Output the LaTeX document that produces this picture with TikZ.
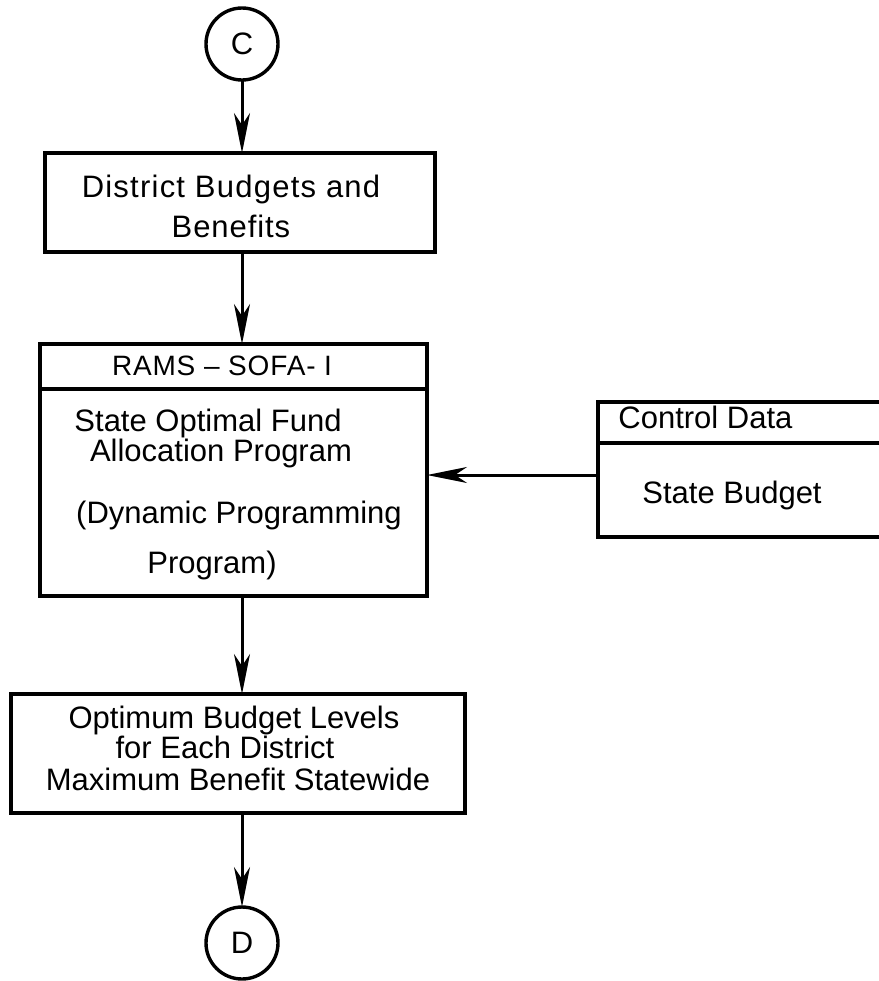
\documentclass[tikz,border=0pt]{standalone}
\usepackage{fontspec}
\setmainfont{Liberation Sans}
\usetikzlibrary{arrows.meta}
\begin{document}
\begin{tikzpicture}[x=0.5pt,y=-0.5pt,
  box/.style={draw, line width=1.7pt, inner sep=0pt, outer sep=0pt},
  conn/.style={circle, draw, line width=1.7pt, minimum size=36pt, inner sep=0pt, outer sep=0pt, font=\fontsize{15.5}{18}\selectfont},
  txt/.style={anchor=base, inner sep=0pt, font=\fontsize{15.5}{18}\selectfont},
  txtl/.style={anchor=base west, inner sep=0pt, font=\fontsize{15.5}{18}\selectfont},
  hdr/.style={anchor=base, inner sep=0pt, font=\fontsize{14}{16}\selectfont\addfontfeature{LetterSpace=3}},
  arr/.style={line width=1.5pt, -{Stealth[length=20pt,width=8pt,inset=6pt]}},
]
\useasboundingbox (0,0) rectangle (879,981);
% connectors (circles)
\node[conn] (c) at (242,44) {C};
\node[conn] (d) at (242,943) {D};
% box 1
\node[box, minimum width=195pt, minimum height=49.5pt] (b1) at (240,202.5) {};
\node[txt, font=\fontsize{15.5}{18}\selectfont\addfontfeature{LetterSpace=4}] (t1a) at (231,197) {District Budgets and};
\node[txt, font=\fontsize{15.5}{18}\selectfont\addfontfeature{LetterSpace=3}] (t1b) at (231,237) {Benefits};
% box 2
\node[box, minimum width=193.5pt, minimum height=126pt] (b2) at (233.5,470) {};
\draw[line width=1.7pt] ([yshift=-22.5pt]b2.north west) -- ([yshift=-22.5pt]b2.north east);
\node[hdr] (t2h) at (222,375) {RAMS -- SOFA- I};
\node[txt] (t2a) at (208,431) {State Optimal Fund};
\node[txt] (t2b) at (221,461) {Allocation Program};
\node[txt] (t2c) at (239,523) {(Dynamic Programming};
\node[txt] (t2d) at (212,573) {Program)};
% control data box (right side runs off the page)
\node[inner sep=0pt, outer sep=0pt, minimum width=140.5pt, minimum height=67.5pt] (cd) at (738.5,469.5) {};
\draw[line width=1.7pt] (cd.north east) -- (cd.north west) -- (cd.south west) -- (cd.south east);
\draw[line width=1.7pt] ([yshift=-20.5pt]cd.north west) -- ([yshift=-20.5pt]cd.north east);
\node[txtl] (tcd) at (618,428) {Control Data};
\node[txtl] (tsb) at (642,503) {State Budget};
% box 3
\node[box, minimum width=227pt, minimum height=59.5pt] (b3) at (238,753.5) {};
\node[txt] (t3a) at (234,728) {Optimum Budget Levels};
\node[txt] (t3b) at (225,758) {for Each District};
\node[txt] (t3c) at (238,790) {Maximum Benefit Statewide};
% arrows
\draw[arr] (c) -- (c |- b1.north);
\draw[arr] (b1.south -| c) -- (b2.north -| c);
\draw[arr] ([yshift=-2.75pt]cd.west) -- ([yshift=-2.75pt]cd.west -| b2.east);
\draw[arr] (b2.south -| c) -- (b3.north -| c);
\draw[arr] (b3.south -| c) -- (d);
\end{tikzpicture}
\end{document}
